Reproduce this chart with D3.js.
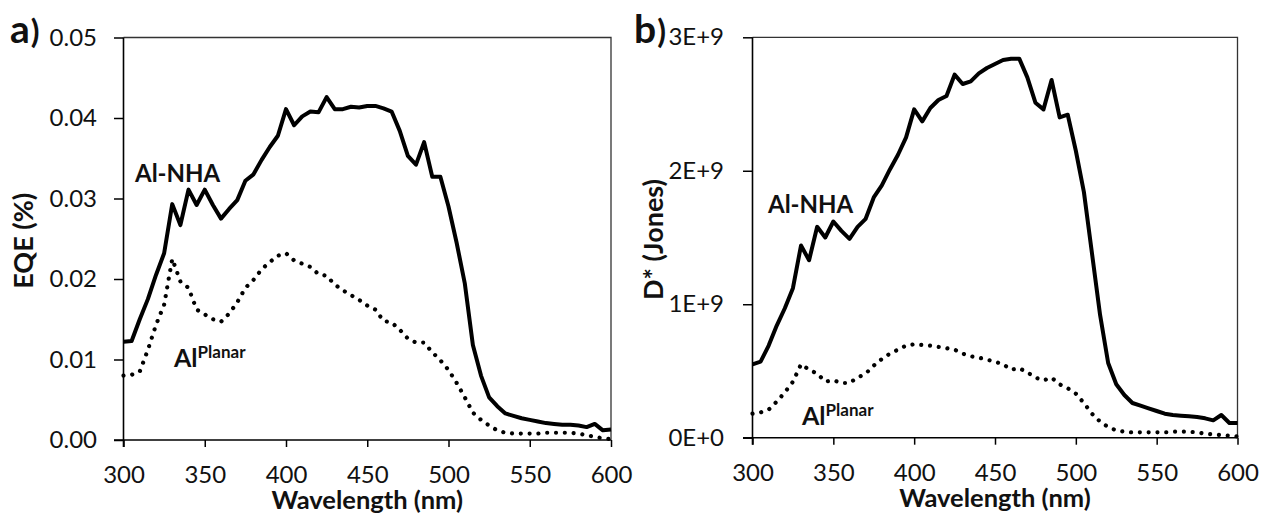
<!DOCTYPE html>
<html>
<head>
<meta charset="utf-8">
<script src="https://cdn.jsdelivr.net/npm/d3@7"></script>
<style>
  html, body { margin: 0; padding: 0; background: #fff; }
  svg { display: block; font-family: Lato, "Open Sans", sans-serif; }
</style>
</head>
<body>
<svg id="chart" width="1263" height="513"></svg>
<script>
// Wavelength grid (nm)
const wavelength = [
  300, 305, 310, 315, 320, 325, 330, 335, 340, 345,
  350, 355, 360, 365, 370, 375, 380, 385, 390, 395,
  400, 405, 410, 415, 420, 425, 430, 435, 440, 445,
  450, 455, 460, 465, 470, 475, 480, 485, 490, 495,
  500, 505, 510, 515, 520, 525, 530, 535, 540, 545,
  550, 555, 560, 565, 570, 575, 580, 585, 590, 595, 600
];

// External quantum efficiency (%)
const eqeNHA = [
  0.0122, 0.0123, 0.0150, 0.0175, 0.0205, 0.0232, 0.0293, 0.0267, 0.0311, 0.0292,
  0.0311, 0.0292, 0.0275, 0.0287, 0.0298, 0.0322, 0.0330, 0.0348, 0.0364, 0.0378,
  0.0411, 0.0391, 0.0402, 0.0408, 0.0407, 0.0426, 0.0411, 0.0411, 0.0414, 0.0413,
  0.0415, 0.0415, 0.0412, 0.0408, 0.0384, 0.0353, 0.0342, 0.0370, 0.0327, 0.0327,
  0.0290, 0.0245, 0.0195, 0.0118, 0.0080, 0.0053, 0.0042, 0.0033, 0.0030, 0.0027,
  0.0025, 0.0023, 0.0021, 0.0020, 0.0019, 0.0019, 0.0018, 0.0016, 0.0020, 0.0012, 0.0013
];
const eqePlanar = [
  0.0080, 0.0081, 0.0085, 0.0112, 0.0143, 0.0168, 0.0225, 0.0197, 0.0189, 0.0162,
  0.0156, 0.0150, 0.0147, 0.0157, 0.0171, 0.0189, 0.0199, 0.0212, 0.0221, 0.0229,
  0.0232, 0.0223, 0.0219, 0.0215, 0.0206, 0.0204, 0.0193, 0.0186, 0.0180, 0.0174,
  0.0167, 0.0162, 0.0148, 0.0146, 0.0137, 0.0126, 0.0121, 0.0121, 0.0109, 0.0099,
  0.0087, 0.0071, 0.0053, 0.0034, 0.0025, 0.0018, 0.0012, 0.0009, 0.0008, 0.0008,
  0.0008, 0.0008, 0.0009, 0.0009, 0.0009, 0.0009, 0.0008, 0.0006, 0.0004, 0.0002, 0.0001
];

// Specific detectivity D* (Jones)
const detNHA = [
  0.55e9, 0.57e9, 0.69e9, 0.84e9, 0.97e9, 1.12e9, 1.44e9, 1.33e9, 1.58e9, 1.50e9,
  1.62e9, 1.55e9, 1.49e9, 1.58e9, 1.64e9, 1.80e9, 1.89e9, 2.01e9, 2.12e9, 2.25e9,
  2.46e9, 2.37e9, 2.47e9, 2.53e9, 2.56e9, 2.72e9, 2.65e9, 2.67e9, 2.73e9, 2.77e9,
  2.80e9, 2.83e9, 2.84e9, 2.84e9, 2.70e9, 2.51e9, 2.46e9, 2.68e9, 2.40e9, 2.42e9,
  2.15e9, 1.84e9, 1.38e9, 0.92e9, 0.56e9, 0.40e9, 0.32e9, 0.26e9, 0.24e9, 0.22e9,
  0.20e9, 0.18e9, 0.17e9, 0.165e9, 0.16e9, 0.155e9, 0.145e9, 0.13e9, 0.17e9, 0.11e9, 0.11e9
];
const detPlanar = [
  0.18e9, 0.19e9, 0.21e9, 0.27e9, 0.34e9, 0.42e9, 0.55e9, 0.51e9, 0.48e9, 0.42e9,
  0.43e9, 0.41e9, 0.41e9, 0.45e9, 0.48e9, 0.54e9, 0.59e9, 0.63e9, 0.66e9, 0.69e9,
  0.70e9, 0.695e9, 0.69e9, 0.68e9, 0.67e9, 0.66e9, 0.63e9, 0.61e9, 0.60e9, 0.585e9,
  0.57e9, 0.55e9, 0.51e9, 0.52e9, 0.49e9, 0.45e9, 0.43e9, 0.45e9, 0.40e9, 0.37e9,
  0.33e9, 0.26e9, 0.18e9, 0.12e9, 0.08e9, 0.055e9, 0.045e9, 0.04e9, 0.04e9, 0.04e9,
  0.04e9, 0.04e9, 0.045e9, 0.045e9, 0.045e9, 0.04e9, 0.03e9, 0.025e9, 0.02e9, 0.015e9, 0.01e9
];

// Axis ticks
const xTicks = [300, 350, 400, 450, 500, 550, 600];
const eqeTicks = [0, 0.01, 0.02, 0.03, 0.04, 0.05];
const eqeTickLabels = ["0.00", "0.01", "0.02", "0.03", "0.04", "0.05"];
const detTicks = [0, 1e9, 2e9, 3e9];
const detTickLabels = ["0E+0", "1E+9", "2E+9", "3E+9"];

const svg = d3.select("#chart");
svg.append("rect").attr("width", 1263).attr("height", 513).attr("fill", "#fff");

function panel(opt) {
  const x = d3.scaleLinear().domain([300, 600]).range([opt.left, opt.right]);
  const y = d3.scaleLinear().domain(opt.yDomain).range([opt.bottom, opt.top]);
  const g = svg.append("g");

  // frame (top and right edges)
  g.append("path")
    .attr("d", `M${opt.left},${opt.top}H${opt.right}V${opt.bottom}`)
    .attr("fill", "none").attr("stroke", "#333").attr("stroke-width", 1.3);

  // x axis
  const xa = g.append("g").attr("transform", `translate(0,${opt.bottom})`)
    .call(d3.axisBottom(x).tickValues(xTicks).tickFormat(d3.format("d"))
      .tickSizeInner(7).tickSizeOuter(0).tickPadding(19));
  xa.select(".domain").remove();
  xa.selectAll("line").attr("stroke", "#000").attr("stroke-width", 1.5);
  xa.selectAll("text").attr("font-size", 24).attr("fill", "#111")
    .attr("font-family", "Lato, sans-serif");

  // y axis
  const ya = g.append("g").attr("transform", `translate(${opt.left},0)`)
    .call(d3.axisLeft(y).tickValues(opt.yTicks)
      .tickFormat((d, i) => opt.yTickLabels[i])
      .tickSizeInner(9.5).tickSizeOuter(0).tickPadding(opt.yPad));
  ya.select(".domain").remove();
  ya.selectAll("line").attr("stroke", "#000").attr("stroke-width", 1.5);
  ya.selectAll("text").attr("font-size", 24).attr("fill", "#111")
    .attr("font-family", "Lato, sans-serif");

  // axis lines
  g.append("line").attr("x1", opt.left).attr("x2", opt.left)
    .attr("y1", opt.top).attr("y2", opt.bottom + 7)
    .attr("stroke", "#000").attr("stroke-width", 1.6);
  g.append("line").attr("x1", opt.left - 9.5).attr("x2", opt.right)
    .attr("y1", opt.bottom).attr("y2", opt.bottom)
    .attr("stroke", "#000").attr("stroke-width", 1.6);

  const line = d3.line().x((d, i) => x(wavelength[i])).y(d => y(d));

  // planar (dotted)
  g.append("path").datum(opt.planar)
    .attr("d", line).attr("fill", "none")
    .attr("stroke", "#000").attr("stroke-width", 4.2)
    .attr("stroke-linecap", "round").attr("stroke-dasharray", "0.01 8.8");

  // nanohole array (solid)
  g.append("path").datum(opt.nha)
    .attr("d", line).attr("fill", "none")
    .attr("stroke", "#000").attr("stroke-width", 4)
    .attr("stroke-linejoin", "round");

  // axis titles
  g.append("text")
    .attr("x", (opt.left + opt.right) / 2).attr("y", opt.xTitleY)
    .attr("text-anchor", "middle").attr("font-weight", "bold")
    .attr("font-size", 25.5).attr("fill", "#111")
    .text("Wavelength (nm)");
  g.append("text")
    .attr("transform", `translate(${opt.yTitleX},${(opt.top + opt.bottom) / 2 + 2}) rotate(-90)`)
    .attr("text-anchor", "middle").attr("font-weight", "bold")
    .attr("font-size", opt.yTitleSize).attr("fill", "#111")
    .text(opt.yTitle);

  // panel letter
  const p = g.append("text").attr("x", opt.letterX).attr("y", 43)
    .attr("font-weight", "bold").attr("fill", "#111");
  p.append("tspan").attr("font-size", 39).text(opt.letter);
  p.append("tspan").attr("font-size", 32).attr("dx", 1).text(")");

  // series labels
  g.append("text").attr("x", opt.nhaLabel[0]).attr("y", opt.nhaLabel[1])
    .attr("font-weight", "bold").attr("font-size", 24).attr("fill", "#111")
    .text("Al-NHA");
  const pl = g.append("text").attr("x", opt.planarLabel[0]).attr("y", opt.planarLabel[1])
    .attr("font-weight", "bold").attr("fill", "#111");
  pl.append("tspan").attr("font-size", 25).text("Al");
  pl.append("tspan").attr("font-size", 17).attr("dy", -9).text("Planar");
}

panel({
  left: 123.5, right: 611, top: 37.5, bottom: 440,
  yDomain: [0, 0.05], yTicks: eqeTicks, yTickLabels: eqeTickLabels, yPad: 17,
  nha: eqeNHA, planar: eqePlanar,
  yTitle: "EQE (%)", yTitleX: 33, yTitleSize: 27, xTitleY: 509,
  letter: "a", letterX: 10,
  nhaLabel: [135, 182], planarLabel: [174, 367]
});

panel({
  left: 752.5, right: 1237.5, top: 37.3, bottom: 437.7,
  yDomain: [0, 3e9], yTicks: detTicks, yTickLabels: detTickLabels, yPad: 19,
  nha: detNHA, planar: detPlanar,
  yTitle: "D* (Jones)", yTitleX: 663, yTitleSize: 27, xTitleY: 507,
  letter: "b", letterX: 634,
  nhaLabel: [768, 213], planarLabel: [802, 425]
});
</script>
</body>
</html>
